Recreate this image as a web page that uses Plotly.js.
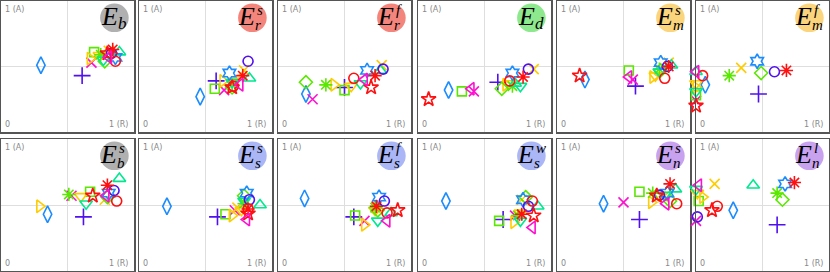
<!DOCTYPE html>
<html><head><meta charset="utf-8">
<script src="https://cdn.plot.ly/plotly-3.0.1.min.js"></script>
<style>html,body{margin:0;padding:0;background:#fff}#chart{width:830px;height:272px}</style>
</head><body><div id="chart"></div>
<script>
// Panel labels
const panelSub = ['b','r','r','d','m','m','b','s','s','s','n','n'];
const panelSup = ['','s','f','','s','f','s','s','f','w','s','l'];
const badgeColors = ['#b0b0b0','#f4857c','#f4857c','#8ee88e','#fbd47e','#fbd47e',
                     '#b0b0b0','#aab6f5','#aab6f5','#aab6f5','#c9a2ef','#c9a2ef'];

// Series (17 methods) — order used in every panel array below
const seriesNames = ['s1','s2','s3','s4','s5','s6','s7','s8','s9','s10','s11','s12','s13','s14','s15','s16','s17'];

// Panel values: x = R, y = A
const ebX  = [.30,.61,.68,.70,.67,.74,.81,.75,.78,.77,.89,.86,.83,.86,.84,.80,.81];
const ebY  = [.51,.43,.53,.61,.56,.585,.62,.59,.54,.55,.61,.57,.60,.54,.63,.60,.57];
const ersX = [.46,.58,.64,.57,.63,.72,.79,.70,.70,.70,.83,.68,.82,.71,.78,.70,.76];
const ersY = [.27,.39,.32,.33,.39,.39,.47,.36,.34,.38,.41,.45,.54,.35,.43,.34,.36];
const erfX = [.21,.50,.26,.50,.42,.55,.78,.36,.21,.62,.77,.67,.79,.57,.73,.70,.65];
const erfY = [.29,.34,.25,.32,.36,.35,.51,.36,.38,.37,.47,.47,.48,.41,.43,.34,.40];
const edX  = [.23,.60,.42,.33,.66,.68,.87,.71,.63,.77,.73,.71,.83,.69,.79,.08,.40];
const edY  = [.32,.38,.31,.31,.36,.37,.48,.35,.33,.35,.37,.45,.48,.39,.42,.25,.33];
const emsX = [.21,.59,.57,.54,.72,.74,.84,.77,.78,.77,.86,.78,.83,.81,.84,.17,.54];
const emsY = [.40,.35,.40,.47,.42,.43,.53,.48,.47,.46,.51,.53,.50,.41,.50,.43,.42];
const emfX = [.07,.47,.00,.00,.00,.00,.34,.25,.49,.00,.00,.46,.59,.05,.68,.00,.00];
const emfY = [.36,.29,.24,.28,.34,.37,.49,.43,.45,.31,.46,.54,.46,.43,.47,.20,.46];
const ebsX = [.35,.62,.53,.67,.29,.60,.78,.51,.80,.64,.89,.81,.85,.87,.80,.69,.79];
const ebsY = [.43,.41,.57,.60,.49,.565,.54,.58,.56,.51,.70,.59,.61,.53,.65,.57,.57];
const essX = [.21,.59,.72,.65,.70,.77,.74,.79,.79,.79,.91,.81,.83,.82,.82,.82,.81];
const essY = [.49,.41,.46,.43,.42,.46,.48,.51,.57,.53,.50,.59,.54,.47,.47,.435,.39];
const esfX = [.20,.57,.65,.58,.65,.73,.74,.73,.75,.75,.85,.76,.80,.82,.74,.90,.82];
const esfY = [.55,.41,.38,.42,.35,.46,.48,.48,.46,.38,.44,.56,.53,.44,.49,.46,.38];
const eswX = [.21,.64,.73,.61,.72,.77,.78,.75,.81,.77,.90,.79,.83,.86,.78,.87,.86];
const eswY = [.53,.39,.42,.38,.37,.44,.54,.42,.56,.38,.49,.54,.49,.53,.43,.42,.33];
const ensX = [.35,.62,.50,.62,.71,.77,.80,.72,.85,.81,.89,.83,.77,.90,.85,.75,.82];
const ensY = [.51,.39,.52,.60,.52,.575,.56,.59,.53,.575,.62,.59,.575,.51,.66,.57,.51];
const enlX = [.28,.61,.00,.02,.05,.01,.14,.61,.65,.00,.43,.67,.01,.16,.74,.12,.02];
const enlY = [.46,.35,.38,.53,.56,.59,.66,.59,.54,.62,.65,.66,.41,.49,.67,.46,.65];

const panelX = [ebX,ersX,erfX,edX,emsX,emfX,ebsX,essX,esfX,eswX,ensX,enlX];
const panelY = [ebY,ersY,erfY,edY,emsY,emfY,ebsY,essY,esfY,eswY,ensY,enlY];

// Styles
const RED='#ff1010', YEL='#ffcc00', GRN='#5ae800', SPR='#00e890', BLU='#1a8cff', PUR='#5010f0', MAG='#ff10d0';
const seriesStyle = [
  {s:'diamond-tall-open', c:BLU, z:12},
  {s:'cross-thin-open', c:PUR, z:12},
  {s:'x-thin-open', c:MAG, z:10},
  {s:'square-open', c:GRN, z:9},
  {s:'triangle-right-open', c:YEL, z:11},
  {s:'triangle-down-open', c:YEL, z:11},
  {s:'x-thin-open', c:YEL, z:10},
  {s:'asterisk-open', c:GRN, z:11},
  {s:'diamond-open', c:GRN, z:10},
  {s:'triangle-down-open', c:SPR, z:11},
  {s:'triangle-up-open', c:SPR, z:11},
  {s:'hexagram-open', c:BLU, z:11},
  {s:'circle-open', c:PUR, z:10},
  {s:'circle-open', c:RED, z:10},
  {s:'asterisk-open', c:RED, z:11},
  {s:'star-open', c:RED, z:11},
  {s:'triangle-left-open', c:MAG, z:11}
];

const W=830, H=272;
const lefts=[1,139,278,418,557,696], pw=133;
const tops=[1,139], ph=[131,132];

const traces=[]; const layout={width:W,height:H,margin:{l:0,r:0,t:0,b:0},showlegend:false,
  paper_bgcolor:'#fff',plot_bgcolor:'#fff',shapes:[],annotations:[]};
const cornerFont={family:'DejaVu Sans',size:8,color:'#888'};

for(let p=0;p<12;p++){
  const col=p%6,row=Math.floor(p/6);
  const n=p+1, xa='x'+(n===1?'':n), ya='y'+(n===1?'':n);
  const ax={range:[0,1],showline:true,mirror:true,linecolor:'#555',linewidth:1.5,
    showgrid:true,gridcolor:'#dedede',gridwidth:1,tickvals:[0.5],ticks:'',showticklabels:false,
    zeroline:false,fixedrange:true};
  layout['xaxis'+(n===1?'':n)]=Object.assign({},ax,{domain:[lefts[col]/W,(lefts[col]+pw)/W],anchor:ya});
  layout['yaxis'+(n===1?'':n)]=Object.assign({},ax,{domain:[1-(tops[row]+ph[row])/H,1-tops[row]/H],anchor:xa});
  for(let s=0;s<seriesNames.length;s++){
    const st=seriesStyle[s];
    traces.push({type:'scatter',mode:'markers',x:[panelX[p][s]],y:[panelY[p][s]],xaxis:xa,yaxis:ya,
      cliponaxis:false,hoverinfo:'skip',name:seriesNames[s],
      marker:{symbol:st.s,size:st.z,color:st.c,line:{color:st.c,width:1.6}}});
  }
  const xd=xa+' domain', yd=ya+' domain';
  layout.annotations.push({xref:xd,yref:yd,x:0,y:1,xanchor:'left',yanchor:'top',xshift:2,yshift:-2,text:'1 (A)',showarrow:false,font:cornerFont});
  layout.annotations.push({xref:xd,yref:yd,x:0,y:0,xanchor:'left',yanchor:'bottom',xshift:2,yshift:1,text:'0',showarrow:false,font:cornerFont});
  layout.annotations.push({xref:xd,yref:yd,x:1,y:0,xanchor:'right',yanchor:'bottom',xshift:-4,yshift:1,text:'1 (R)',showarrow:false,font:cornerFont});
  // badge
  const cx=-19.6, cy=-16.8, r=14.3;
  layout.shapes.push({type:'circle',xref:xd,yref:yd,xsizemode:'pixel',ysizemode:'pixel',xanchor:1,yanchor:1,
    x0:cx-r,x1:cx+r,y0:cy-r,y1:cy+r,fillcolor:badgeColors[p],line:{width:0},layer:'above'});
  const tf={family:'Liberation Serif',color:'#000'};
  const hasSup=panelSup[p]!=='';
  layout.annotations.push({xref:xd,yref:yd,x:1,y:1,xanchor:'center',yanchor:'middle',borderpad:0,
    xshift:cx-(hasSup?6:5),yshift:cy+1,text:'<i>E</i>',showarrow:false,font:Object.assign({size:26},tf)});
  layout.annotations.push({xref:xd,yref:yd,x:1,y:1,xanchor:'left',yanchor:'middle',borderpad:0,
    xshift:cx+(hasSup?2:3),yshift:cy-(hasSup?7:6),text:'<i>'+panelSub[p]+'</i>',showarrow:false,font:Object.assign({size:hasSup?15:17},tf)});
  if(hasSup) layout.annotations.push({xref:xd,yref:yd,x:1,y:1,xanchor:'left',yanchor:'middle',borderpad:0,
    xshift:cx+4,yshift:cy+8,text:'<i>'+panelSup[p]+'</i>',showarrow:false,font:Object.assign({size:15},tf)});
}
Plotly.newPlot('chart',traces,layout,{staticPlot:true,displayModeBar:false});
</script></body></html>
